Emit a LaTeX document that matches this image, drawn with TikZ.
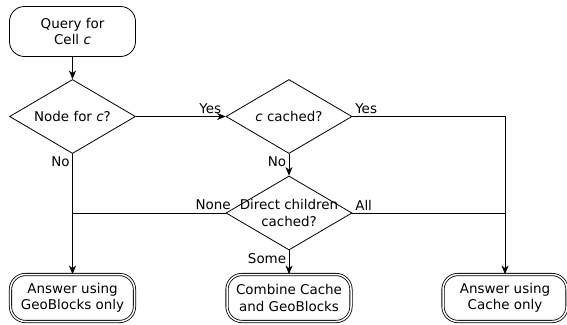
\documentclass[tikz,border=0pt]{standalone}
\usepackage{fontspec}
\setmainfont{DejaVu Sans}
\usetikzlibrary{arrows.meta,shapes}

\begin{document}
\begin{tikzpicture}[x=1bp, y=-1bp, line width=0.8bp, >={Stealth[length=8.5bp,width=7bp,inset=2.5bp]},
	every node/.style={font=\fontsize{13.5}{16.5}\selectfont, align=center},
	startbox/.style={draw, rounded corners=15bp, minimum width=126bp, minimum height=50bp, inner sep=0pt},
	decision/.style={draw, diamond, minimum width=126bp, minimum height=74bp, inner sep=0pt},
	endbox/.style={draw, double, double distance=1.5bp, rounded corners=15bp, minimum width=124bp, minimum height=47bp, inner sep=0pt},
	lbl/.style={inner sep=2.5bp}]
\useasboundingbox (0,0) rectangle (567,324);
% start
\node[startbox] (query) at (72.5,31.5) {Query for\\Cell \textit{c}};
% decisions
\node[decision, label={center:Node for \textit{c}?}] (nodeq) at (72.5,116.5) {};
\node[decision, label={center:\textit{c} cached?}] (cached) at (289,116.5) {};
\node[decision, label={center:Direct children\\cached?}] (children) at (289,213) {};
% answers
\node[endbox] (geo) at (72.5,298) {Answer using\\GeoBlocks only};
\node[endbox] (combine) at (289,298) {Combine Cache\\and GeoBlocks};
\node[endbox] (cacheonly) at (505,298) {Answer using\\Cache only};
% connectors
\draw[->] (query) -- (nodeq);
\draw[->] (nodeq) -- node[lbl, above, pos=0.83] {Yes} (cached);
\draw[->] (nodeq.south) node[lbl, below left] {No} -- (geo);
\draw[->] (cached.east) node[lbl, above right] {Yes} -| (cacheonly);
\draw[->] (cached.south) node[lbl, below left] {No} -- (children);
\draw (children.west) node[lbl, above left, xshift=8bp] {None} -- (children.west -| geo);
\draw (children.east) node[lbl, above right] {All} -- (children.east -| cacheonly);
\draw[->] (children.south) node[lbl, below left] {Some} -- (combine);
\end{tikzpicture}
\end{document}
